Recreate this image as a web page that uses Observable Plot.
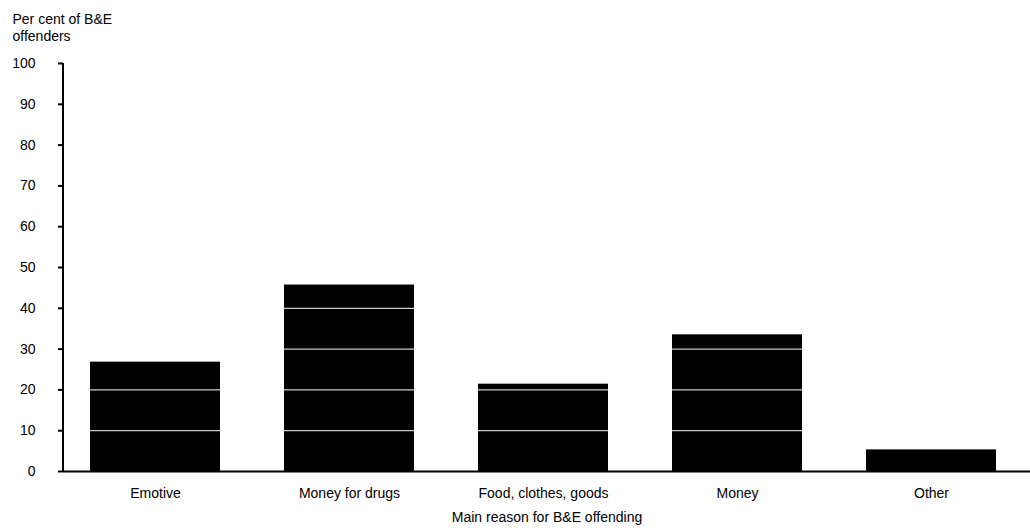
<!DOCTYPE html>
<html>
<head>
<meta charset="utf-8">
<script src="https://cdn.jsdelivr.net/npm/d3@7"></script>
<script src="https://cdn.jsdelivr.net/npm/@observablehq/plot@0.6"></script>
<style>
  html, body { margin: 0; padding: 0; background: #fff; }
  svg { display: block; }
</style>
</head>
<body>
<div id="chart"></div>
<script>
const categories = ["Emotive", "Money for drugs", "Food, clothes, goods", "Money", "Other"];
const values = [26.8, 45.7, 21.4, 33.5, 5.3];
const yTicks = [0, 10, 20, 30, 40, 50, 60, 70, 80, 90, 100];
const gridLines = [10, 20, 30, 40, 50, 60, 70, 80, 90];
const yTitle = "Per cent of B&E\noffenders";
const xTitle = "Main reason for B&E offending";

const data = categories.map((c, i) => ({category: c, value: values[i]}));

const font = "'Liberation Sans Narrow', 'Arial Narrow', 'Liberation Sans', Arial, sans-serif";

// y-axis domain line drawn through the y scale
function yAxisLine(index, scales, values, dimensions) {
  const [y0, y1] = scales.y.domain ? [0, 100] : [0, 100];
  const x = dimensions.marginLeft;
  const line = document.createElementNS("http://www.w3.org/2000/svg", "line");
  line.setAttribute("x1", x);
  line.setAttribute("x2", x);
  line.setAttribute("y1", scales.y(y0) + 1);
  line.setAttribute("y2", scales.y(y1));
  line.setAttribute("stroke", "#000");
  line.setAttribute("stroke-width", 2);
  return line;
}

const chart = Plot.plot({
  width: 1030,
  height: 530,
  marginLeft: 63,
  marginRight: 0,
  marginTop: 63,
  marginBottom: 59,
  style: {fontFamily: font, fontSize: "14px", color: "#000", background: "#fff"},
  x: {domain: categories, range: [63, 1023], paddingInner: 0.332, paddingOuter: 0.139, label: null},
  y: {domain: [0, 100], label: null},
  marks: [
    Plot.barY(data, {x: "category", y: "value", fill: "#000"}),
    Plot.ruleY(gridLines, {stroke: "#fff", strokeWidth: 1}),
    Plot.ruleY([0], {stroke: "#000", strokeWidth: 2}),
    Plot.axisY(yTicks, {tickSize: 5, tickPadding: 23, strokeWidth: 2, label: null, fontSize: 14}),
    yAxisLine,
    Plot.axisX({tickSize: 0, tickPadding: 17, label: null, fontSize: 14}),
    Plot.text([yTitle], {frameAnchor: "top-left", dx: -51, dy: -51, textAnchor: "start", lineAnchor: "top", lineHeight: 1.2, fontSize: 14}),
    Plot.text([xTitle], {frameAnchor: "bottom", dy: 46, textAnchor: "middle", lineAnchor: "middle", fontSize: 14})
  ]
});
document.getElementById("chart").appendChild(chart);
</script>
</body>
</html>
